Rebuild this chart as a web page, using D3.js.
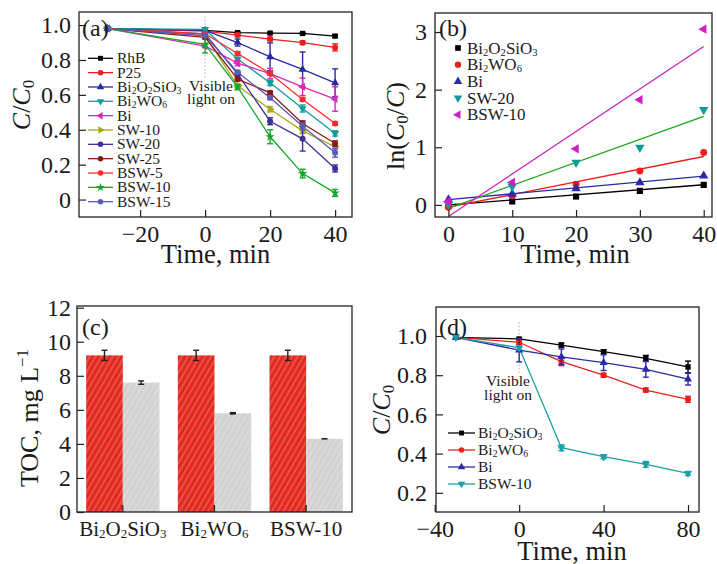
<!DOCTYPE html>
<html>
<head>
<meta charset="utf-8">
<script src="https://cdn.jsdelivr.net/npm/d3@7"></script>
<style>
  body { margin: 0; background: #fff; }
  svg text { font-family: "Liberation Serif", "DejaVu Serif", serif; fill: #1a1a1a; }
</style>
</head>
<body>
<svg id="fig" width="717" height="564"></svg>
<script>
// ---- panel (a): C/C0 vs time, all samples
const timeA = [-30, 0, 10, 20, 30, 40];
const namesA = ["RhB", "P25", "Bi2O2SiO3", "Bi2WO6", "Bi", "SW-10", "SW-20", "SW-25", "BSW-5", "BSW-10", "BSW-15"];
const valuesA = [
  [0.98, 0.97, 0.957, 0.954, 0.952, 0.937],
  [0.98, 0.965, 0.943, 0.92, 0.899, 0.872],
  [0.98, 0.97, 0.90, 0.818, 0.746, 0.669],
  [0.98, 0.975, 0.805, 0.669, 0.522, 0.379],
  [0.98, 0.88, 0.782, 0.722, 0.646, 0.576],
  [0.98, 0.94, 0.652, 0.518, 0.394, 0.302],
  [0.98, 0.95, 0.72, 0.449, 0.348, 0.178],
  [0.98, 0.93, 0.69, 0.612, 0.436, 0.321],
  [0.98, 0.95, 0.837, 0.723, 0.574, 0.436],
  [0.98, 0.89, 0.645, 0.36, 0.149, 0.038],
  [0.98, 0.94, 0.73, 0.583, 0.42, 0.268]
];
const errorsA = [
  [0, 0, 0.005, 0.005, 0.005, 0.008],
  [0, 0, 0.01, 0.01, 0.01, 0.02],
  [0, 0.01, 0.02, 0.08, 0.10, 0.08],
  [0, 0.01, 0.01, 0.015, 0.02, 0.015],
  [0, 0.01, 0.015, 0.03, 0.05, 0.07],
  [0, 0.01, 0.01, 0.015, 0.015, 0.015],
  [0, 0.01, 0.01, 0.02, 0.07, 0.02],
  [0, 0.01, 0.01, 0.01, 0.015, 0.015],
  [0, 0.01, 0.01, 0.01, 0.01, 0.01],
  [0, 0.05, 0.015, 0.04, 0.025, 0.02],
  [0, 0.01, 0.01, 0.01, 0.02, 0.025]
];
const colorsA = ["#000000", "#ee1c1c", "#2a2aa0", "#109c9c", "#d62ab8", "#a8a81a",
  "#3a2f9c", "#8a1a1a", "#ff2a2a", "#14a82a", "#5a5ab8"];
const shapesA = ["square", "circle", "up", "down", "left", "right", "circle", "circle", "circle", "star", "circle"];
const xTicksA = [-20, 0, 20, 40];
const yTicksA = [0, 0.2, 0.4, 0.6, 0.8, 1.0];

// ---- panel (b): ln(C0/C) kinetics
const timeB = [0, 10, 20, 30, 40];
const namesB = ["Bi2O2SiO3", "Bi2WO6", "Bi", "SW-20", "BSW-10"];
const valuesB = [
  [-0.02, 0.06, 0.145, 0.243, 0.347],
  [-0.04, 0.16, 0.36, 0.59, 0.91],
  [0.09, 0.19, 0.284, 0.388, 0.504],
  [0.01, 0.318, 0.735, 0.996, 1.65],
  [0.06, 0.39, 0.973, 1.824, 3.05]
];
// fitted lines, value at t = 0 and t = 40
const fitStartB = [0.0, -0.04, 0.09, -0.06, -0.2];
const fitEndB = [0.35, 0.84, 0.50, 1.535, 2.75];
const colorsB = ["#000000", "#e8201c", "#2a2aa8", "#109c9c", "#d020c0"];
const fitColorsB = ["#000000", "#e8201c", "#2a2aa8", "#1aa81a", "#d020c0"];
const shapesB = ["square", "circle", "up", "down", "left"];
const xTicksB = [0, 10, 20, 30, 40];
const yTicksB = [0, 1, 2, 3];

// ---- panel (c): TOC bars
const catsC = ["Bi2O2SiO3", "Bi2WO6", "BSW-10"];
const tocBefore = [9.2, 9.2, 9.2];
const tocBeforeErr = [0.3, 0.3, 0.3];
const tocAfter = [7.6, 5.8, 4.3];
const tocAfterErr = [0.1, 0.04, 0.02];
const yTicksC = [0, 2, 4, 6, 8, 10, 12];

// ---- panel (d): longer run
const timeD = [-30, 0, 20, 40, 60, 80];
const namesD = ["Bi2O2SiO3", "Bi2WO6", "Bi", "BSW-10"];
const valuesD = [
  [0.993, 0.985, 0.954, 0.92, 0.886, 0.842],
  [0.993, 0.968, 0.869, 0.80, 0.724, 0.677],
  [0.993, 0.928, 0.894, 0.864, 0.83, 0.78],
  [0.993, 0.94, 0.43, 0.384, 0.345, 0.299]
];
const errorsD = [
  [0, 0.005, 0.01, 0.01, 0.015, 0.03],
  [0, 0.01, 0.02, 0.01, 0.01, 0.015],
  [0, 0.06, 0.04, 0.04, 0.04, 0.03],
  [0, 0.01, 0.015, 0.01, 0.015, 0.01]
];
const colorsD = ["#000000", "#e8201c", "#2a2aa8", "#1aa0a8"];
const shapesD = ["square", "circle", "up", "down"];
const xTicksD = [-40, 0, 40, 80];
const yTicksD = [0.2, 0.4, 0.6, 0.8, 1.0];

const svg = d3.select("#fig");
const FONT = '"Liberation Serif", "DejaVu Serif", serif';

const symbols = {square: d3.symbolSquare, circle: d3.symbolCircle, up: d3.symbolTriangle,
  down: d3.symbolTriangle, left: d3.symbolTriangle, right: d3.symbolTriangle, star: d3.symbolStar};
const turns = {down: 180, left: -90, right: 90};

function marker(g, shape, x, y, size, color) {
  g.append("path")
    .attr("d", d3.symbol(symbols[shape], size)())
    .attr("transform", `translate(${x},${y}) rotate(${turns[shape] || 0})`)
    .attr("fill", color);
}

function errBar(g, x, y1, y2, cap, color) {
  if (Math.abs(y1 - y2) < 1) return;
  g.append("line").attr("x1", x).attr("x2", x).attr("y1", y1).attr("y2", y2)
    .attr("stroke", color).attr("stroke-width", 1.4);
  [y1, y2].forEach(yy => g.append("line").attr("x1", x - cap).attr("x2", x + cap)
    .attr("y1", yy).attr("y2", yy).attr("stroke", color).attr("stroke-width", 1.4));
}

// writes text, turning digits of Bi-formulas into subscripts
function chem(t, s, fs) {
  if (!/^Bi\d/.test(s)) { t.append("tspan").text(s); return; }
  let down = false;
  s.match(/\d+|\D+/g).forEach(p => {
    const ts = t.append("tspan").text(p);
    if (/\d/.test(p)) {
      ts.attr("font-size", fs * 0.62);
      if (!down) ts.attr("dy", fs * 0.12);
      down = true;
    } else {
      if (down) ts.attr("dy", -fs * 0.12);
      down = false;
    }
  });
}

function styleAxis(g, fs) {
  g.select(".domain").remove();
  g.attr("font-family", FONT).attr("font-size", fs);
  g.selectAll(".tick line").attr("stroke", "#222").attr("stroke-width", 1.2);
  g.selectAll(".tick text").attr("fill", "#1a1a1a");
}

function frame(g, x0, x1, y0, y1) {
  g.append("rect")
    .attr("x", x0).attr("y", y0).attr("width", x1 - x0).attr("height", y1 - y0)
    .attr("fill", "none").attr("stroke", "#222").attr("stroke-width", 1.3);
}

const minus = d => d < 0 ? "\u2212" + (-d) : String(d);
const dec1 = d => d === 0 ? "0" : d3.format(".1f")(d);
const whole = d3.format("d");

function timeTitle(x, y) {
  svg.append("text").attr("x", x).attr("y", y).attr("text-anchor", "middle")
    .attr("font-size", 26.5).text("Time, min");
}

function ccLabel(x, y) {
  const t = svg.append("text").attr("transform", `translate(${x},${y}) rotate(-90)`)
    .attr("text-anchor", "middle").attr("font-size", 26);
  t.append("tspan").attr("font-style", "italic").text("C");
  t.append("tspan").text("/");
  t.append("tspan").attr("font-style", "italic").text("C");
  t.append("tspan").attr("font-size", 17).attr("dy", 4).text("0");
}

// ================= panel (a)
const xa = d3.scaleLinear().domain([-38.8, 45.2]).range([79, 352]);
const ya = d3.scaleLinear().domain([-0.1, 1.075]).range([217, 12]);
const ga = svg.append("g");

ga.append("line").attr("x1", xa(0)).attr("x2", xa(0)).attr("y1", ya(1.05)).attr("y2", ya(0.7))
  .attr("stroke", "#aaa").attr("stroke-width", 1).attr("stroke-dasharray", "1.5,2");

const lineA = d3.line().x((d, i) => xa(timeA[i])).y(d => ya(d));
namesA.forEach((n, k) => {
  ga.append("path").attr("d", lineA(valuesA[k])).attr("fill", "none")
    .attr("stroke", colorsA[k]).attr("stroke-width", 1.3);
});
namesA.forEach((n, k) => {
  valuesA[k].forEach((v, i) => {
    errBar(ga, xa(timeA[i]), ya(v + errorsA[k][i]), ya(v - errorsA[k][i]), 3, colorsA[k]);
    marker(ga, shapesA[k], xa(timeA[i]), ya(v), 28, colorsA[k]);
  });
});

ga.append("g").attr("transform", "translate(0,217)")
  .call(d3.axisBottom(xa).tickValues(xTicksA).tickSize(-7).tickPadding(8).tickFormat(minus))
  .call(g => styleAxis(g, 24));
ga.append("g").attr("transform", "translate(79,0)")
  .call(d3.axisLeft(ya).tickValues(yTicksA).tickSize(-7).tickPadding(8).tickFormat(dec1))
  .call(g => styleAxis(g, 24));
frame(ga, 79, 352, 12, 217);

namesA.forEach((n, k) => {
  const yy = 58.3 + k * 14.34;
  ga.append("line").attr("x1", 88).attr("x2", 113).attr("y1", yy).attr("y2", yy)
    .attr("stroke", colorsA[k]).attr("stroke-width", 1.3);
  marker(ga, shapesA[k], 100.5, yy, 24, colorsA[k]);
  chem(ga.append("text").attr("x", 117).attr("y", yy + 5).attr("font-size", 15.5), n, 15.5);
});
ga.append("text").attr("x", 211).attr("y", 91).attr("text-anchor", "middle").attr("font-size", 15.5).text("Visible");
ga.append("text").attr("x", 211).attr("y", 104).attr("text-anchor", "middle").attr("font-size", 15.5).text("light on");
ga.append("text").attr("x", 82).attr("y", 36).attr("font-size", 24).text("(a)");
ccLabel(30, 105);
timeTitle(215.5, 263);

// ================= panel (b)
const xb = d3.scaleLinear().domain([-2.1, 41.3]).range([435, 712]);
const yb = d3.scaleLinear().domain([-0.21, 3.33]).range([217, 13]);
const gb = svg.append("g");
gb.append("clipPath").attr("id", "clipB").append("rect")
  .attr("x", 435).attr("y", 13).attr("width", 277).attr("height", 204);

namesB.forEach((n, k) => {
  gb.append("line").attr("clip-path", "url(#clipB)")
    .attr("x1", xb(timeB[0])).attr("y1", yb(fitStartB[k]))
    .attr("x2", xb(timeB[timeB.length - 1])).attr("y2", yb(fitEndB[k]))
    .attr("stroke", fitColorsB[k]).attr("stroke-width", 1.3);
});
namesB.forEach((n, k) => {
  valuesB[k].forEach((v, i) => marker(gb, shapesB[k], xb(timeB[i]), yb(v), 38, colorsB[k]));
});

gb.append("g").attr("transform", "translate(0,217)")
  .call(d3.axisBottom(xb).tickValues(xTicksB).tickSize(-7).tickPadding(8).tickFormat(whole))
  .call(g => styleAxis(g, 24));
gb.append("g").attr("transform", "translate(435,0)")
  .call(d3.axisLeft(yb).tickValues(yTicksB).tickSize(-7).tickPadding(8).tickFormat(whole))
  .call(g => styleAxis(g, 24));
frame(gb, 435, 712, 13, 217);

namesB.forEach((n, k) => {
  const yy = 48 + k * 16.7;
  marker(gb, shapesB[k], 458, yy, 32, colorsB[k]);
  chem(gb.append("text").attr("x", 467).attr("y", yy + 5.5).attr("font-size", 17), n, 17);
});
gb.append("text").attr("x", 439).attr("y", 36).attr("font-size", 24).text("(b)");
{
  const t = svg.append("text").attr("transform", "translate(404,126) rotate(-90)")
    .attr("text-anchor", "middle").attr("font-size", 26);
  t.append("tspan").text("ln(");
  t.append("tspan").attr("font-style", "italic").text("C");
  t.append("tspan").attr("font-size", 17).attr("dy", 4).text("0");
  t.append("tspan").attr("dy", -4).text("/");
  t.append("tspan").attr("font-style", "italic").text("C");
  t.append("tspan").text(")");
}
timeTitle(575, 263);

// ================= panel (c)
const xc = d3.scaleBand().domain(catsC).range([77, 352]);
const yc = d3.scaleLinear().domain([0, 12.1]).range([512, 306]);
const gc = svg.append("g");
const defs = svg.append("defs");
[["hatchRed", "#e3291f"], ["hatchGray", "#d2d2d2"]].forEach(([id, col]) => {
  const p = defs.append("pattern").attr("id", id).attr("patternUnits", "userSpaceOnUse")
    .attr("width", 5).attr("height", 5).attr("patternTransform", "rotate(30)");
  p.append("rect").attr("width", 5).attr("height", 5).attr("fill", col);
  p.append("line").attr("x1", 1).attr("x2", 1).attr("y1", 0).attr("y2", 5)
    .attr("stroke", "#fff").attr("stroke-opacity", 0.4).attr("stroke-width", 0.9);
});
const barW = xc.bandwidth() * 0.4;
catsC.forEach((c, i) => {
  const cx = xc(c) + xc.bandwidth() / 2;
  gc.append("rect").attr("x", cx - barW).attr("width", barW)
    .attr("y", yc(tocBefore[i])).attr("height", yc(0) - yc(tocBefore[i])).attr("fill", "url(#hatchRed)");
  gc.append("rect").attr("x", cx).attr("width", barW)
    .attr("y", yc(tocAfter[i])).attr("height", yc(0) - yc(tocAfter[i])).attr("fill", "url(#hatchGray)");
  errBar(gc, cx - barW / 2, yc(tocBefore[i] + tocBeforeErr[i]), yc(tocBefore[i] - tocBeforeErr[i]), 3, "#222");
  errBar(gc, cx + barW / 2, yc(tocAfter[i] + tocAfterErr[i]), yc(tocAfter[i] - tocAfterErr[i]), 3, "#222");
  if (tocAfterErr[i] < 0.05) {
    gc.append("line").attr("x1", cx + barW / 2 - 3).attr("x2", cx + barW / 2 + 3)
      .attr("y1", yc(tocAfter[i])).attr("y2", yc(tocAfter[i])).attr("stroke", "#222").attr("stroke-width", 1.6);
  }
});
gc.append("g").attr("transform", "translate(0,512)")
  .call(d3.axisBottom(xc).tickSize(-7).tickPadding(9))
  .call(g => styleAxis(g, 21))
  .call(g => g.selectAll(".tick text").each(function (d) {
    const t = d3.select(this).text(null);
    chem(t, d, 21);
  }));
gc.append("g").attr("transform", "translate(77,0)")
  .call(d3.axisLeft(yc).tickValues(yTicksC).tickSize(-7).tickPadding(6).tickFormat(whole))
  .call(g => styleAxis(g, 24));
frame(gc, 77, 352, 306, 512);
gc.append("text").attr("x", 82).attr("y", 335).attr("font-size", 24).text("(c)");
{
  const t = svg.append("text").attr("transform", "translate(38,418) rotate(-90)")
    .attr("text-anchor", "middle").attr("font-size", 26);
  t.append("tspan").text("TOC, mg L");
  t.append("tspan").attr("font-size", 17).attr("dy", -10).text("\u22121");
}

// ================= panel (d)
const xd = d3.scaleLinear().domain([-39.4, 85.2]).range([436, 699]);
const yd = d3.scaleLinear().domain([0.102, 1.148]).range([512, 307]);
const gd = svg.append("g");
gd.append("line").attr("x1", xd(0)).attr("x2", xd(0)).attr("y1", yd(1.07)).attr("y2", yd(0.81))
  .attr("stroke", "#aaa").attr("stroke-width", 1).attr("stroke-dasharray", "1.5,2");

const lineD = d3.line().x((d, i) => xd(timeD[i])).y(d => yd(d));
namesD.forEach((n, k) => {
  gd.append("path").attr("d", lineD(valuesD[k])).attr("fill", "none")
    .attr("stroke", colorsD[k]).attr("stroke-width", 1.3);
});
namesD.forEach((n, k) => {
  valuesD[k].forEach((v, i) => {
    errBar(gd, xd(timeD[i]), yd(v + errorsD[k][i]), yd(v - errorsD[k][i]), 3, colorsD[k]);
    marker(gd, shapesD[k], xd(timeD[i]), yd(v), 28, colorsD[k]);
  });
});
gd.append("g").attr("transform", "translate(0,512)")
  .call(d3.axisBottom(xd).tickValues(xTicksD).tickSize(-7).tickPadding(8).tickFormat(minus))
  .call(g => styleAxis(g, 24));
gd.append("g").attr("transform", "translate(436,0)")
  .call(d3.axisLeft(yd).tickValues(yTicksD).tickSize(-7).tickPadding(9).tickFormat(dec1))
  .call(g => styleAxis(g, 24));
frame(gd, 436, 699, 307, 512);

namesD.forEach((n, k) => {
  const yy = 433 + k * 17;
  gd.append("line").attr("x1", 448).attr("x2", 475).attr("y1", yy).attr("y2", yy)
    .attr("stroke", colorsD[k]).attr("stroke-width", 1.3);
  marker(gd, shapesD[k], 461.5, yy, 24, colorsD[k]);
  chem(gd.append("text").attr("x", 478).attr("y", yy + 5).attr("font-size", 15.5), n, 15.5);
});
gd.append("text").attr("x", 508).attr("y", 386).attr("text-anchor", "middle").attr("font-size", 15.5).text("Visible");
gd.append("text").attr("x", 508).attr("y", 400).attr("text-anchor", "middle").attr("font-size", 15.5).text("light on");
gd.append("text").attr("x", 439).attr("y", 335).attr("font-size", 24).text("(d)");
ccLabel(390, 410);
timeTitle(572, 560);
</script>
</body>
</html>
